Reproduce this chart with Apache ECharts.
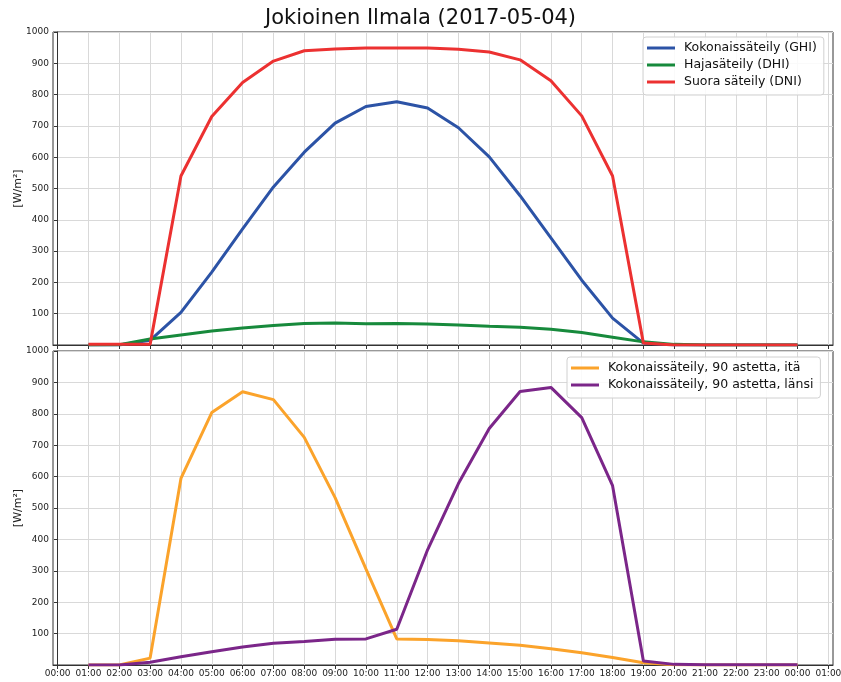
<!DOCTYPE html>
<html>
<head>
<meta charset="utf-8">
<script src="https://cdn.jsdelivr.net/npm/echarts@6/dist/echarts.min.js"></script>
<style>
  html, body { margin: 0; padding: 0; background: #fff; }
  #chart { width: 841px; height: 682px; }
</style>
</head>
<body>
<div id="chart"></div>
<script>
// Hourly observations, 01:00 .. 24:00 (00:00 next day)
const hours = [1, 2, 3, 4, 5, 6, 7, 8, 9, 10, 11, 12, 13, 14, 15, 16, 17, 18, 19, 20, 21, 22, 23, 24];

// Upper panel: global, diffuse and direct irradiance [W/m²]
const ghi = [0, 0, 15, 104, 233, 371, 505, 616, 709, 762, 777, 757, 694, 601, 477, 342, 207, 86, 6, 0, 0, 0, 0, 0];
const dhi = [0, 1, 19, 32, 45, 54, 62, 69, 70, 68, 69, 67, 64, 60, 57, 50, 40, 25, 10, 2, 0, 0, 0, 0];
const dni = [2, 2, 2, 540, 730, 839, 907, 940, 946, 949, 949, 949, 945, 936, 911, 844, 732, 540, 6, 0, 0, 0, 0, 0];

// Lower panel: vertical surfaces facing east / west [W/m²]
const east = [0, 0, 22, 594, 804, 870, 845, 725, 533, 306, 83, 81, 77, 70, 63, 52, 39, 24, 7, 1, 0, 0, 0, 0];
const west = [0, 0, 9, 26, 42, 57, 69, 75, 82, 83, 114, 367, 578, 753, 871, 884, 788, 571, 13, 2, 1, 1, 1, 1];

// Hour ticks on the time axis and their labels
const tickHours = [0, 1, 2, 3, 4, 5, 6, 7, 8, 9, 10, 11, 12, 13, 14, 15, 16, 17, 18, 19, 20, 21, 22, 23, 24, 25];
const tickLabels = ['00:00', '01:00', '02:00', '03:00', '04:00', '05:00', '06:00', '07:00', '08:00', '09:00',
  '10:00', '11:00', '12:00', '13:00', '14:00', '15:00', '16:00', '17:00', '18:00', '19:00',
  '20:00', '21:00', '22:00', '23:00', '00:00', '01:00'];

const FONT = 'DejaVu Sans';
const pairs = arr => hours.map((h, i) => [h, arr[i]]);

function xAxis(gridIndex, showLabels) {
  return {
    type: 'value', gridIndex, min: -0.15, max: 25.15,
    axisLine: { show: true, lineStyle: { color: '#333', width: 1 } },
    axisTick: { show: true, customValues: tickHours, length: 4, lineStyle: { color: '#333' } },
    axisLabel: {
      show: showLabels, customValues: tickHours, fontFamily: FONT, fontSize: 9, color: '#222', margin: 4,
      hideOverlap: false,
      formatter: v => tickLabels[tickHours.indexOf(Math.round(v))] || ''
    },
    splitLine: { show: true, lineStyle: { color: '#d9d9d9', width: 1 } }
  };
}
function yAxis(gridIndex) {
  return {
    type: 'value', gridIndex, min: 0, max: 1000, interval: 100,
    name: '[W/m²]', nameLocation: 'middle', nameGap: 29, nameRotate: 90, nameMoveOverlap: false,
    nameTextStyle: { fontFamily: FONT, fontSize: 11, color: '#222' },
    axisLine: { show: true, lineStyle: { color: '#333', width: 1 } },
    axisTick: { show: true, length: 4, lineStyle: { color: '#333' } },
    axisLabel: { fontFamily: FONT, fontSize: 9, color: '#222', margin: 4, formatter: v => v === 0 ? '' : String(v) },
    splitLine: { show: true, lineStyle: { color: '#d9d9d9', width: 1 } }
  };
}
function line(name, arr, color, idx) {
  return {
    name, type: 'line', xAxisIndex: idx, yAxisIndex: idx, data: pairs(arr),
    showSymbol: false, symbol: 'none', lineStyle: { color, width: 3 }, itemStyle: { color },
    emphasis: { disabled: true }
  };
}
const legendBase = {
  orient: 'vertical', icon: 'rect', itemWidth: 28, itemHeight: 3, itemGap: 3,
  backgroundColor: 'rgba(255,255,255,0.85)', borderColor: '#d0d0d0', borderWidth: 1, borderRadius: 3,
  textStyle: { fontFamily: FONT, fontSize: 12.5, color: '#111', lineHeight: 14, padding: [0, 0, 0, 4] }
};

const chart = echarts.init(document.getElementById('chart'), null, { renderer: 'canvas' });
chart.setOption({
  animation: false,
  title: {
    text: 'Jokioinen Ilmala (2017-05-04)', left: 'center', top: 3,
    textStyle: { fontFamily: FONT, fontSize: 21, fontWeight: 'normal', color: '#111' }
  },
  grid: [
    { left: 53, top: 32, width: 780, height: 313, show: true, borderColor: '#333', borderWidth: 1,
      containLabel: false, outerBoundsMode: 'none' },
    { left: 53, top: 351, width: 780, height: 314, show: true, borderColor: '#333', borderWidth: 1,
      containLabel: false, outerBoundsMode: 'none' }
  ],
  xAxis: [xAxis(0, false), xAxis(1, true)],
  yAxis: [yAxis(0), yAxis(1)],
  legend: [
    Object.assign({}, legendBase, { left: 643, top: 37, padding: [4, 7, 6, 4],
      data: ['Kokonaissäteily (GHI)', 'Hajasäteily (DHI)', 'Suora säteily (DNI)'] }),
    Object.assign({}, legendBase, { left: 567, top: 357, padding: [4, 7, 6, 4],
      data: ['Kokonaissäteily, 90 astetta, itä', 'Kokonaissäteily, 90 astetta, länsi'] })
  ],
  series: [
    line('Kokonaissäteily (GHI)', ghi, '#2c53a6', 0),
    line('Hajasäteily (DHI)', dhi, '#178a3c', 0),
    line('Suora säteily (DNI)', dni, '#ec3131', 0),
    line('Kokonaissäteily, 90 astetta, itä', east, '#fba32b', 1),
    line('Kokonaissäteily, 90 astetta, länsi', west, '#7b2689', 1)
  ]
});
</script>
</body>
</html>
